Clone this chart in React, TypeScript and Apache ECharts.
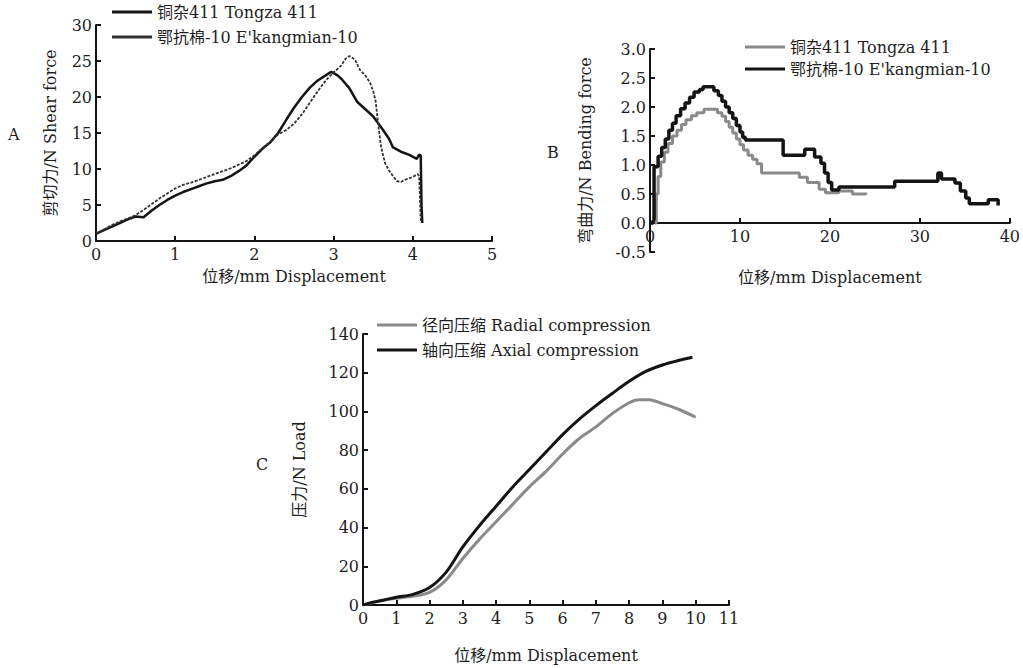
import React, { useEffect, useRef } from "react";
import * as echarts from "echarts";

const FONT = "'DejaVu Serif', 'Noto Sans CJK SC', serif";

// Panel A: shear force vs displacement
const aNames = ["铜杂411 Tongza 411", "鄂抗棉-10 E'kangmian-10"];
const aTongza: number[][] = [
  [0, 1.0], [0.1, 1.5], [0.2, 2.0], [0.3, 2.5], [0.4, 3.0], [0.5, 3.4], [0.6, 3.3], [0.7, 4.2],
  [0.8, 5.0], [0.9, 5.7], [1.0, 6.3], [1.1, 6.8], [1.2, 7.2], [1.3, 7.6], [1.4, 8.0], [1.5, 8.3],
  [1.6, 8.5], [1.7, 9.0], [1.8, 9.7], [1.9, 10.5], [2.0, 11.7], [2.1, 12.8], [2.2, 13.7], [2.3, 15.0],
  [2.4, 16.8], [2.5, 18.5], [2.6, 20.0], [2.7, 21.3], [2.8, 22.3], [2.9, 23.0], [2.97, 23.5], [3.05, 23.0],
  [3.1, 22.5], [3.2, 21.2], [3.3, 19.3], [3.4, 18.3], [3.5, 17.3], [3.6, 15.8], [3.7, 14.2], [3.75, 13.0],
  [3.85, 12.4], [3.95, 12.0], [4.05, 11.4], [4.08, 12.0], [4.1, 11.9], [4.11, 5.0], [4.12, 2.5],
];
const aEkang: number[][] = [
  [0, 1.0], [0.1, 1.6], [0.2, 2.2], [0.3, 2.7], [0.4, 3.1], [0.5, 3.6], [0.6, 4.3], [0.7, 5.1],
  [0.8, 5.9], [0.9, 6.6], [1.0, 7.3], [1.1, 7.8], [1.2, 8.1], [1.3, 8.5], [1.4, 8.9], [1.5, 9.3],
  [1.6, 9.7], [1.7, 10.1], [1.8, 10.6], [1.9, 11.1], [2.0, 11.9], [2.1, 12.9], [2.2, 13.8], [2.3, 14.8],
  [2.4, 15.4], [2.5, 16.3], [2.6, 17.6], [2.7, 19.2], [2.8, 20.8], [2.9, 22.3], [3.0, 23.4], [3.1, 24.4],
  [3.15, 25.3], [3.2, 25.7], [3.27, 25.2], [3.33, 23.8], [3.4, 23.0], [3.46, 22.0], [3.5, 20.8], [3.53, 19.5],
  [3.56, 16.5], [3.6, 13.0], [3.65, 10.8], [3.7, 9.8], [3.75, 9.0], [3.8, 8.3], [3.85, 8.2], [3.9, 8.5],
  [4.0, 8.9], [4.06, 9.3], [4.08, 9.0], [4.1, 3.0], [4.11, 2.5],
];

// Panel B: bending force vs displacement (step curves)
const bTongza: number[][] = [
  [0.5, 0.0], [0.7, 0.5], [0.9, 0.8], [1.2, 1.05], [1.6, 1.22], [2.0, 1.37], [2.5, 1.5], [3.0, 1.6],
  [3.5, 1.7], [4.0, 1.78], [4.6, 1.85], [5.2, 1.9], [6.0, 1.96], [7.5, 1.9], [8.0, 1.84], [8.4, 1.75],
  [8.8, 1.65], [9.2, 1.55], [9.6, 1.45], [10.0, 1.35], [10.4, 1.26], [10.9, 1.17], [11.4, 1.1], [11.9, 1.02],
  [12.4, 0.86], [16.6, 0.79], [17.5, 0.7], [18.8, 0.58], [19.5, 0.52], [21.0, 0.55], [22.5, 0.5], [24.0, 0.52],
];
const bEkang: number[][] = [
  [0, 0.0], [0.35, 0.05], [0.45, 0.97], [0.9, 1.15], [1.3, 1.3], [1.7, 1.45], [2.1, 1.6], [2.5, 1.72],
  [2.9, 1.85], [3.4, 1.97], [3.9, 2.07], [4.4, 2.17], [4.9, 2.26], [5.5, 2.3], [5.9, 2.35], [7.1, 2.28],
  [7.6, 2.2], [8.0, 2.1], [8.4, 2.0], [8.8, 1.9], [9.2, 1.8], [9.6, 1.68], [10.0, 1.57], [10.3, 1.48],
  [10.6, 1.43], [14.8, 1.17], [17.2, 1.27], [18.3, 1.14], [19.0, 1.03], [19.4, 0.86], [19.8, 0.7], [20.2, 0.57],
  [21.0, 0.62], [27.2, 0.72], [32.0, 0.86], [32.4, 0.76], [33.9, 0.69], [34.5, 0.55], [35.1, 0.43], [35.5, 0.33],
  [37.6, 0.4], [38.7, 0.3],
];

// Panel C: load vs displacement
const cNames = ["径向压缩 Radial compression", "轴向压缩 Axial compression"];
const cRadial: number[][] = [
  [0, 0], [0.5, 2], [1, 3.5], [1.5, 4.5], [2, 6.5], [2.5, 13], [3, 24], [3.5, 34], [4, 43], [4.5, 52],
  [5, 61], [5.5, 69], [6, 78], [6.5, 86], [7, 92], [7.5, 99], [8, 104.5], [8.3, 106], [8.6, 106],
  [9, 104], [9.5, 101], [10, 97],
];
const cAxial: number[][] = [
  [0, 0], [0.3, 1.5], [0.6, 2.5], [1, 4], [1.5, 5.5], [2, 9], [2.5, 17], [3, 30], [3.5, 41], [4, 51],
  [4.5, 61], [5, 70], [5.5, 79], [6, 88], [6.5, 96], [7, 103], [7.5, 109.4], [8, 115.6], [8.5, 120.7],
  [9, 124], [9.5, 126.4], [9.9, 128],
];

const axisTitles = {
  aX: "位移/mm Displacement",
  aY: "剪切力/N Shear force",
  bX: "位移/mm Displacement",
  bY: "弯曲力/N Bending force",
  cX: "位移/mm Displacement",
  cY: "压力/N Load",
};

const BLACK = "#141414";
const GRAY = "#8a8a8a";
const TXT = "#1e1e1e";

function xAxis(gridIndex: number, max: number, interval: number, name: string, nameGap: number, offset = 0) {
  return {
    type: "value",
    gridIndex,
    min: 0,
    max,
    interval,
    name,
    offset,
    nameLocation: "middle",
    nameGap,
    nameTextStyle: { fontFamily: FONT, fontSize: 16, color: TXT },
    axisLine: { onZero: false, lineStyle: { color: BLACK, width: 2 } },
    axisTick: { inside: true, length: 5, lineStyle: { color: BLACK, width: 2 } },
    axisLabel: { fontFamily: FONT, fontSize: 16, color: TXT, margin: 5 },
    splitLine: { show: false },
  };
}

function yAxis(gridIndex: number, min: number, max: number, interval: number, name: string, nameGap: number, fmt?: (v: number) => string) {
  return {
    type: "value",
    gridIndex,
    min,
    max,
    interval,
    name,
    nameLocation: "middle",
    nameGap,
    nameTextStyle: { fontFamily: FONT, fontSize: 16, color: TXT },
    axisLine: { onZero: false, lineStyle: { color: BLACK, width: 2 } },
    axisTick: { inside: true, length: 5, lineStyle: { color: BLACK, width: 2 } },
    axisLabel: { fontFamily: FONT, fontSize: 16, color: TXT, margin: 4, formatter: fmt },
    splitLine: { show: false },
  };
}

function legend(left: number, top: number, names: string[], colors: string[], gap: number, w: number) {
  return {
    left,
    top,
    padding: 0,
    orient: "vertical",
    selectedMode: false,
    icon: "rect",
    itemWidth: w,
    itemHeight: 3,
    itemGap: gap,
    textStyle: { fontFamily: FONT, fontSize: 16, color: TXT },
    data: names.map((n, i) => ({ name: n, itemStyle: { color: colors[i] } })),
  };
}

export default function App() {
  const ref = useRef<HTMLDivElement>(null);
  useEffect(() => {
    if (!ref.current) return;
    const chart = echarts.init(ref.current, undefined, { renderer: "svg" });
    chart.setOption({
      animation: false,
      backgroundColor: "#ffffff",
      grid: [
        { left: 96, top: 25, width: 396, height: 216 },
        { left: 650, top: 49, width: 365, height: 203 },
        { left: 363, top: 334, width: 366, height: 271 },
      ],
      xAxis: [
        xAxis(0, 5, 1, axisTitles.aX, 27),
        xAxis(1, 40, 10, axisTitles.bX, 46, -29),
        xAxis(2, 11, 1, axisTitles.cX, 42),
      ],
      yAxis: [
        yAxis(0, 0, 30, 5, axisTitles.aY, 38),
        yAxis(1, -0.5, 3.0, 0.5, axisTitles.bY, 57, (v: number) => v.toFixed(1)),
        yAxis(2, 0, 140, 20, axisTitles.cY, 56),
      ],
      legend: [
        legend(112, 4, aNames, [BLACK, "#333333"], 9, 40),
        legend(745, 39, aNames, [GRAY, BLACK], 6, 40),
        legend(377, 317, cNames, [GRAY, BLACK], 9, 40),
      ],
      graphic: [
        { type: "text", left: 8, top: 126, style: { text: "A", font: `16px ${FONT}`, fill: TXT } },
        { type: "text", left: 547, top: 144, style: { text: "B", font: `16px ${FONT}`, fill: TXT } },
        { type: "text", left: 256, top: 456, style: { text: "C", font: `16px ${FONT}`, fill: TXT } },
      ],
      series: [
        {
          name: aNames[0], type: "line", xAxisIndex: 0, yAxisIndex: 0, data: aTongza,
          showSymbol: false, symbol: "none", lineStyle: { color: BLACK, width: 2.5 }, itemStyle: { color: BLACK },
        },
        {
          name: aNames[1], type: "line", xAxisIndex: 0, yAxisIndex: 0, data: aEkang,
          showSymbol: false, symbol: "none", lineStyle: { color: "#333333", width: 1.8, type: [3, 1.5] }, itemStyle: { color: "#333333" },
        },
        {
          name: aNames[0], type: "line", xAxisIndex: 1, yAxisIndex: 1, data: bTongza, step: "end",
          showSymbol: false, symbol: "none", lineStyle: { color: GRAY, width: 3 }, itemStyle: { color: GRAY },
        },
        {
          name: aNames[1], type: "line", xAxisIndex: 1, yAxisIndex: 1, data: bEkang, step: "end",
          showSymbol: false, symbol: "none", lineStyle: { color: BLACK, width: 3.5 }, itemStyle: { color: BLACK },
        },
        {
          name: cNames[0], type: "line", xAxisIndex: 2, yAxisIndex: 2, data: cRadial, smooth: 0.3,
          showSymbol: false, symbol: "none", lineStyle: { color: GRAY, width: 3 }, itemStyle: { color: GRAY },
        },
        {
          name: cNames[1], type: "line", xAxisIndex: 2, yAxisIndex: 2, data: cAxial, smooth: 0.3,
          showSymbol: false, symbol: "none", lineStyle: { color: BLACK, width: 3 }, itemStyle: { color: BLACK },
        },
      ],
    });
    return () => chart.dispose();
  }, []);
  return (
    <div
      ref={ref}
      style={{ position: "absolute", left: 0, top: 0, width: 1023, height: 668, background: "#fff" }}
    />
  );
}
